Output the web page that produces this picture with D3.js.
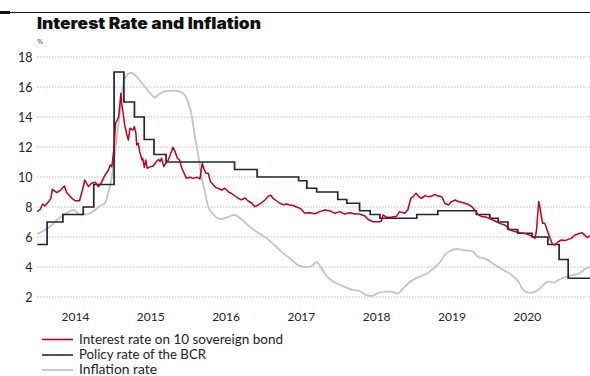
<!DOCTYPE html>
<html><head><meta charset="utf-8">
<script src="https://cdn.jsdelivr.net/npm/d3@7/dist/d3.min.js"></script>
<style>body{margin:0;background:#fff;} svg{display:block;}</style>
</head><body><svg id="c" width="590" height="376"></svg>
<script>
// ---- data ----
const yearTicks = [2014, 2015, 2016, 2017, 2018, 2019, 2020];
const valueTicks = [2, 4, 6, 8, 10, 12, 14, 16, 18];
const seriesNames = ["Interest rate on 10 sovereign bond", "Policy rate of the BCR", "Inflation rate"];

const bondDates = [2013.50,2013.54,2013.57,2013.60,2013.65,2013.68,2013.70,2013.76,2013.81,2013.86,2013.89,2013.96,2014.00,2014.06,2014.10,2014.13,2014.18,2014.22,2014.27,2014.31,2014.35,2014.40,2014.44,2014.47,2014.49,2014.52,2014.54,2014.58,2014.59,2014.61,2014.62,2014.64,2014.66,2014.69,2014.71,2014.73,2014.77,2014.79,2014.81,2014.82,2014.84,2014.86,2014.89,2014.90,2014.92,2014.94,2014.96,2015.00,2015.04,2015.08,2015.11,2015.13,2015.15,2015.18,2015.21,2015.24,2015.28,2015.30,2015.33,2015.36,2015.39,2015.42,2015.45,2015.48,2015.53,2015.57,2015.62,2015.66,2015.69,2015.71,2015.74,2015.77,2015.80,2015.84,2015.87,2015.90,2015.95,2015.99,2016.04,2016.08,2016.12,2016.17,2016.21,2016.26,2016.30,2016.35,2016.39,2016.43,2016.48,2016.52,2016.57,2016.60,2016.63,2016.68,2016.72,2016.77,2016.81,2016.85,2016.90,2016.94,2016.99,2017.05,2017.12,2017.19,2017.25,2017.32,2017.39,2017.45,2017.52,2017.58,2017.65,2017.72,2017.78,2017.85,2017.89,2017.96,2018.03,2018.07,2018.09,2018.14,2018.20,2018.27,2018.31,2018.38,2018.42,2018.46,2018.49,2018.53,2018.56,2018.60,2018.65,2018.69,2018.74,2018.78,2018.82,2018.87,2018.89,2018.91,2018.96,2019.00,2019.05,2019.09,2019.13,2019.18,2019.22,2019.27,2019.31,2019.35,2019.40,2019.47,2019.53,2019.60,2019.64,2019.71,2019.78,2019.84,2019.91,2019.97,2020.04,2020.08,2020.11,2020.13,2020.15,2020.16,2020.18,2020.21,2020.24,2020.27,2020.31,2020.34,2020.37,2020.42,2020.46,2020.51,2020.55,2020.59,2020.64,2020.68,2020.73,2020.77,2020.80,2020.84];
const bondValues = [7.69,7.85,8.2,8.07,8.36,8.58,9.18,8.96,9.13,9.4,8.96,8.58,8.42,8.42,9.13,9.8,9.36,9.58,9.65,9.36,9.62,10.13,10.42,10.8,10.69,12.0,13.58,14.0,14.47,15.58,14.9,14.25,13.47,12.8,12.47,13.25,13.13,13.36,12.9,12.13,12.25,11.69,11.13,11.25,10.65,11.13,10.58,10.69,10.73,11.02,11.18,11.02,11.25,10.69,10.95,11.13,11.69,11.98,11.69,11.25,11.13,10.58,10.25,9.91,9.98,9.91,9.98,9.87,10.9,10.58,10.25,10.25,9.69,9.47,9.29,9.25,9.13,9.25,9.0,8.9,8.75,8.58,8.47,8.6,8.4,8.25,8.02,8.13,8.29,8.45,8.73,8.78,8.58,8.4,8.25,8.15,8.2,8.13,8.1,8.0,7.91,7.6,7.62,7.55,7.69,7.8,7.74,7.58,7.69,7.53,7.62,7.53,7.53,7.4,7.18,7.02,7.02,7.05,7.47,7.31,7.31,7.38,7.69,7.58,7.8,8.58,8.69,8.91,8.73,8.58,8.76,8.69,8.73,8.84,8.73,8.69,8.5,8.25,8.13,8.36,8.47,8.36,8.31,8.25,8.18,8.02,7.8,7.51,7.36,7.31,7.18,7.02,6.91,6.8,6.47,6.36,6.29,6.24,6.13,6.02,5.91,6.47,7.8,8.36,7.8,6.91,6.91,6.47,5.91,5.53,5.47,5.69,5.8,5.76,5.84,5.91,6.13,6.2,6.29,6.13,5.96,6.07];

const policyDates = [2013.50,2013.63,2013.84,2014.11,2014.25,2014.52,2014.65,2014.79,2014.92,2015.05,2015.21,2016.12,2016.42,2016.97,2017.08,2017.21,2017.49,2017.61,2017.78,2017.92,2018.05,2018.54,2018.82,2019.33,2019.51,2019.62,2019.75,2019.88,2020.07,2020.28,2020.43,2020.55,2020.84];
const policyValues = [5.5,7.0,7.5,8.0,9.5,17,15,14,12.5,11.5,11,10.5,10,9.75,9.25,9.0,8.5,8.25,7.75,7.5,7.25,7.5,7.75,7.5,7.25,7.0,6.5,6.25,6.0,5.5,4.5,3.25,3.25];

const inflationDates = [2013.50,2013.58,2013.67,2013.76,2013.85,2013.91,2013.98,2014.07,2014.16,2014.24,2014.33,2014.40,2014.44,2014.49,2014.53,2014.58,2014.61,2014.64,2014.69,2014.75,2014.82,2014.91,2015.00,2015.06,2015.13,2015.22,2015.31,2015.39,2015.46,2015.50,2015.55,2015.59,2015.64,2015.68,2015.73,2015.77,2015.82,2015.88,2015.94,2016.01,2016.12,2016.21,2016.32,2016.43,2016.55,2016.66,2016.77,2016.88,2016.96,2017.08,2017.14,2017.21,2017.28,2017.36,2017.48,2017.61,2017.69,2017.78,2017.87,2017.94,2018.02,2018.12,2018.20,2018.28,2018.36,2018.45,2018.58,2018.69,2018.80,2018.86,2018.91,2018.98,2019.07,2019.16,2019.27,2019.35,2019.47,2019.58,2019.69,2019.80,2019.89,2019.95,2020.02,2020.08,2020.15,2020.22,2020.28,2020.35,2020.44,2020.53,2020.62,2020.70,2020.79,2020.84];
const inflationValues = [6.2,6.4,6.69,7.13,7.47,7.64,7.8,7.5,7.51,7.69,8.07,8.25,8.91,10.0,11.6,13.58,14.9,16.13,16.8,16.95,16.69,16.13,15.58,15.3,15.58,15.73,15.76,15.69,15.47,15.02,14.13,12.8,11.36,10.02,8.91,8.02,7.6,7.3,7.2,7.29,7.47,7.18,6.69,6.29,5.91,5.4,4.91,4.47,4.13,4.0,4.05,4.33,3.86,3.3,2.9,2.62,2.47,2.4,2.13,2.07,2.26,2.36,2.36,2.22,2.58,3.02,3.36,3.62,4.07,4.4,4.8,5.07,5.2,5.13,5.07,4.69,4.51,4.13,3.8,3.47,3.02,2.47,2.29,2.29,2.47,2.8,3.02,2.96,3.18,3.36,3.47,3.58,3.91,4.02];

const colors = ["#c0001f", "#1e2639", "#c4c4c4"];

// ---- chart ----
const svg = d3.select("#c");
const W = 590, H = 376;
const x = d3.scaleLinear().domain([2013.5, 2020.84]).range([37.3, 590]);
const y = d3.scaleLinear().domain([2, 18]).range([297, 57]);

// top rule
svg.append("line").attr("x1", 0).attr("x2", W).attr("y1", 12.5).attr("y2", 12.5)
  .attr("stroke", "#111").attr("stroke-width", 1);
svg.append("rect").attr("x", 0).attr("y", 11).attr("width", 10).attr("height", 3).attr("fill", "#111");

// title
svg.append("text").attr("x", 37).attr("y", 28.5)
  .attr("font-family", "Inter, 'Open Sans', sans-serif").attr("font-weight", 900)
  .attr("font-size", 15.5).attr("fill", "#111")
  .attr("textLength", 224).attr("lengthAdjust", "spacingAndGlyphs")
  .text("Interest Rate and Inflation");

svg.append("text").attr("x", 37).attr("y", 44)
  .attr("font-family", "'Noto Sans', sans-serif").attr("font-size", 7.5).attr("fill", "#555")
  .text("%");

// grid
svg.append("g").selectAll("line").data(valueTicks).join("line")
  .attr("x1", 37).attr("x2", W)
  .attr("y1", d => y(d)).attr("y2", d => y(d))
  .attr("stroke", "#bdbdbd").attr("stroke-width", 1).attr("stroke-dasharray", "1.5,1.5");

// y axis labels
const yAxis = d3.axisLeft(y).tickValues(valueTicks).tickSize(0).tickPadding(0);
const gy = svg.append("g").attr("transform", "translate(32.5,0)").call(yAxis);
gy.select(".domain").remove();
gy.selectAll("text").attr("font-family", "Lato, 'Noto Sans', sans-serif").attr("font-size", 12.5).attr("fill", "#222");

// x axis labels
const xAxis = d3.axisBottom(x).tickValues(yearTicks).tickFormat(d3.format("d")).tickSize(0).tickPadding(0);
const gx = svg.append("g").attr("transform", "translate(0,312.5)").call(xAxis);
gx.select(".domain").remove();
gx.selectAll("text").attr("font-family", "Lato, 'Noto Sans', sans-serif").attr("font-size", 12).attr("fill", "#222");

// lines
const lineLin = d3.line().x(d => x(d[0])).y(d => y(d[1]));
const lineStep = d3.line().x(d => x(d[0])).y(d => y(d[1])).curve(d3.curveStepAfter);
const inflationLine = d3.line().x(d => x(d[0])).y(d => y(d[1])).curve(d3.curveMonotoneX);

svg.append("path").datum(d3.zip(inflationDates, inflationValues))
  .attr("d", inflationLine).attr("fill", "none").attr("stroke", colors[2]).attr("stroke-width", 1.8);
svg.append("path").datum(d3.zip(policyDates, policyValues))
  .attr("d", lineStep).attr("fill", "none").attr("stroke", colors[1]).attr("stroke-width", 1.7);
svg.append("path").datum(d3.zip(bondDates, bondValues))
  .attr("d", lineLin).attr("fill", "none").attr("stroke", colors[0]).attr("stroke-width", 1.5)
  .attr("stroke-linejoin", "round");

// legend
const legendRows = [339.5, 355, 370];
const legendWidths = [204, 127, 78];
const lg = svg.append("g");
seriesNames.forEach((name, i) => {
  lg.append("line").attr("x1", 42).attr("x2", 73).attr("y1", legendRows[i]).attr("y2", legendRows[i])
    .attr("stroke", colors[i]).attr("stroke-width", i === 2 ? 1.8 : 1.6);
  lg.append("text").attr("x", 79).attr("y", legendRows[i] + 4)
    .attr("font-family", "Lato, 'Noto Sans', sans-serif").attr("font-size", 13).attr("fill", "#222")
    .attr("textLength", legendWidths[i]).attr("lengthAdjust", "spacingAndGlyphs")
    .text(name);
});
</script>
</body></html>
